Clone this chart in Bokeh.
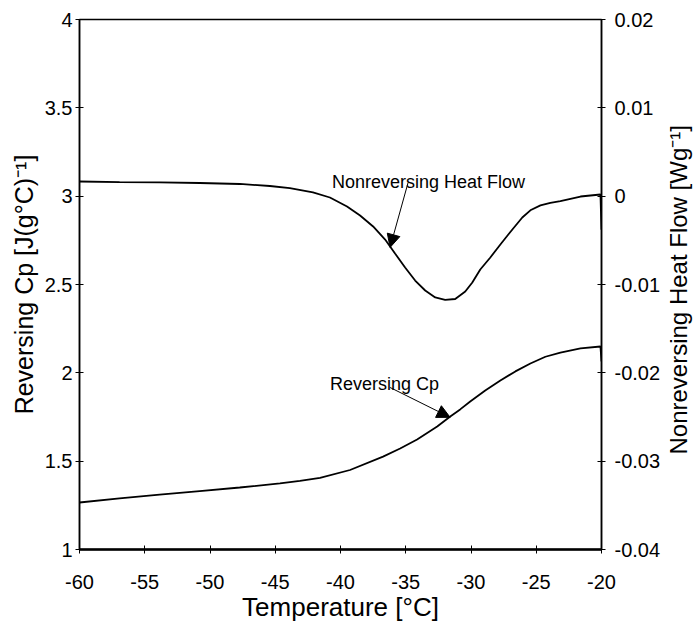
import math
from bokeh.plotting import figure
from bokeh.layouts import row
from bokeh.models import Range1d, LinearAxis, FixedTicker, Arrow, NormalHead, Label
from bokeh.embed import file_html
from bokeh.resources import INLINE

# ---- data ----
temp_hf = [-60, -56.93, -53.86, -50.79, -47.72, -45.41, -43.88, -42.11, -40.81, -39.50,
           -38.50, -37.50, -36.58, -35.82, -35.05, -34.28, -33.51, -32.74, -31.98,
           -31.21, -30.44, -29.90, -29.29, -28.52, -27.75, -26.83, -26.07, -25.45,
           -24.68, -23.92, -23.15, -21.61, -20.08, -20.0]
heat_flow = [0.00166, 0.00160, 0.00155, 0.00149, 0.00138, 0.00115, 0.00092, 0.00042,
             -0.00015, -0.00117, -0.00219, -0.00343, -0.00491, -0.00649, -0.00808,
             -0.00955, -0.01068, -0.01147, -0.01175, -0.01164, -0.01079, -0.00977,
             -0.00830, -0.00694, -0.00547, -0.00377, -0.00242, -0.00160, -0.00104,
             -0.00075, -0.00057, -0.00004, 0.00019, -0.00380]

temp_cp = [-60, -56.93, -53.86, -50.79, -47.72, -44.64, -43.11, -41.57, -39.27, -36.74,
           -35.43, -34.13, -32.59, -31.59, -30.83, -30.06, -28.91, -27.75, -26.60,
           -25.45, -24.30, -23.15, -21.61, -20.08, -20.0]
rev_cp = [1.266, 1.289, 1.311, 1.331, 1.351, 1.374, 1.388, 1.405, 1.450, 1.526,
          1.572, 1.623, 1.696, 1.753, 1.793, 1.838, 1.900, 1.957, 2.008,
          2.053, 2.091, 2.115, 2.138, 2.149, 2.065]

x_ticks = [-60, -55, -50, -45, -40, -35, -30, -25, -20]
x_tick_labels = ["-60", "-55", "-50", "-45", "-40", "-35", "-30", "-25", "-20"]
cp_ticks = [1, 1.5, 2, 2.5, 3, 3.5, 4]
cp_tick_labels = ["1", "1.5", "2", "2.5", "3", "3.5", "4"]
hf_ticks = [-0.04, -0.03, -0.02, -0.01, 0, 0.01, 0.02]
hf_tick_labels = ["-0.04", "-0.03", "-0.02", "-0.01", "0", "0.01", "0.02"]

FONT = "Liberation Sans"

p = figure(width=669, height=630, output_backend="svg", toolbar_location=None,
           x_range=Range1d(-60, -20), y_range=Range1d(1, 4),
           min_border_left=79, min_border_right=68, min_border_top=19, min_border_bottom=81)
p.background_fill_color = "white"
p.border_fill_color = "white"
p.outline_line_color = "black"
p.outline_line_width = 1.5
p.xgrid.visible = False
p.ygrid.visible = False

p.extra_y_ranges = {"hf": Range1d(-0.04, 0.02)}
right = LinearAxis(y_range_name="hf")
p.add_layout(right, "right")

xa = p.xaxis[0]
xa.ticker = FixedTicker(ticks=x_ticks)
xa.major_label_overrides = {t: l for t, l in zip(x_ticks, x_tick_labels)}
xa.axis_line_width = 2.5
xa.axis_label = "Temperature [°C]"

ya = p.yaxis[0]
ya.ticker = FixedTicker(ticks=cp_ticks)
ya.major_label_overrides = {t: l for t, l in zip(cp_ticks, cp_tick_labels)}
ya.axis_line_width = 1.5
ya.axis_label = "Reversing Cp [J(g°C)⁻¹]"

right.ticker = FixedTicker(ticks=hf_ticks)
right.major_label_overrides = {t: l for t, l in zip(hf_ticks, hf_tick_labels)}
right.axis_line_width = 1.5

for ax in (xa, ya, right):
    ax.minor_tick_line_color = None
    ax.major_tick_in = 4
    ax.major_tick_out = 4
    ax.major_tick_line_width = 1
    ax.major_tick_line_color = "black"
    ax.axis_line_color = "black"
    ax.major_label_text_font = FONT
    ax.major_label_text_font_size = "20px"
    ax.major_label_text_color = "black"
    ax.axis_label_text_font = FONT
    ax.axis_label_text_font_style = "normal"
    ax.axis_label_text_color = "black"

xa.axis_label_text_font_size = "26px"
ya.axis_label_text_font_size = "25px"

xa.major_label_standoff = 21
xa.axis_label_standoff = 0
ya.major_label_standoff = 3
ya.axis_label_standoff = 4
right.major_label_standoff = 9

p.line(temp_cp, rev_cp, line_color="black", line_width=1.8)
p.line(temp_hf, heat_flow, line_color="black", line_width=1.8, y_range_name="hf")

# annotations
p.add_layout(Label(x=-40.65, y=3.083, text="Nonreversing Heat Flow", text_font=FONT,
                   text_font_size="18px", text_color="black", text_baseline="alphabetic"))
p.add_layout(Arrow(x_start=-34.82, y_start=3.077, x_end=-36.2, y_end=2.71,
                   line_color="black", line_width=1,
                   end=NormalHead(size=13, fill_color="black", line_color="black")))
p.add_layout(Label(x=-40.8, y=1.934, text="Reversing Cp", text_font=FONT,
                   text_font_size="18px", text_color="black", text_baseline="alphabetic"))
p.add_layout(Arrow(x_start=-36.2, y_start=1.917, x_end=-31.6, y_end=1.748,
                   line_color="black", line_width=1,
                   end=NormalHead(size=13, fill_color="black", line_color="black")))

# right-hand axis title, reading bottom to top, in a narrow strip beside the plot
p2 = figure(width=25, height=630, output_backend="svg", toolbar_location=None,
            x_range=Range1d(0, 1), y_range=Range1d(1, 4),
            x_axis_location=None, y_axis_location=None,
            min_border_left=0, min_border_right=0, min_border_top=19, min_border_bottom=81)
p2.outline_line_color = None
p2.xgrid.visible = False
p2.ygrid.visible = False
p2.background_fill_color = "white"
p2.border_fill_color = "white"
p2.add_layout(Label(x=0.36, y=2.47, text="Nonreversing Heat Flow [Wg⁻¹]", text_font=FONT,
                    text_font_size="24px", text_color="black", text_align="center",
                    text_baseline="alphabetic", angle=math.pi / 2))

layout = row(p, p2)
open("out.html", "w").write(file_html(layout, INLINE))
